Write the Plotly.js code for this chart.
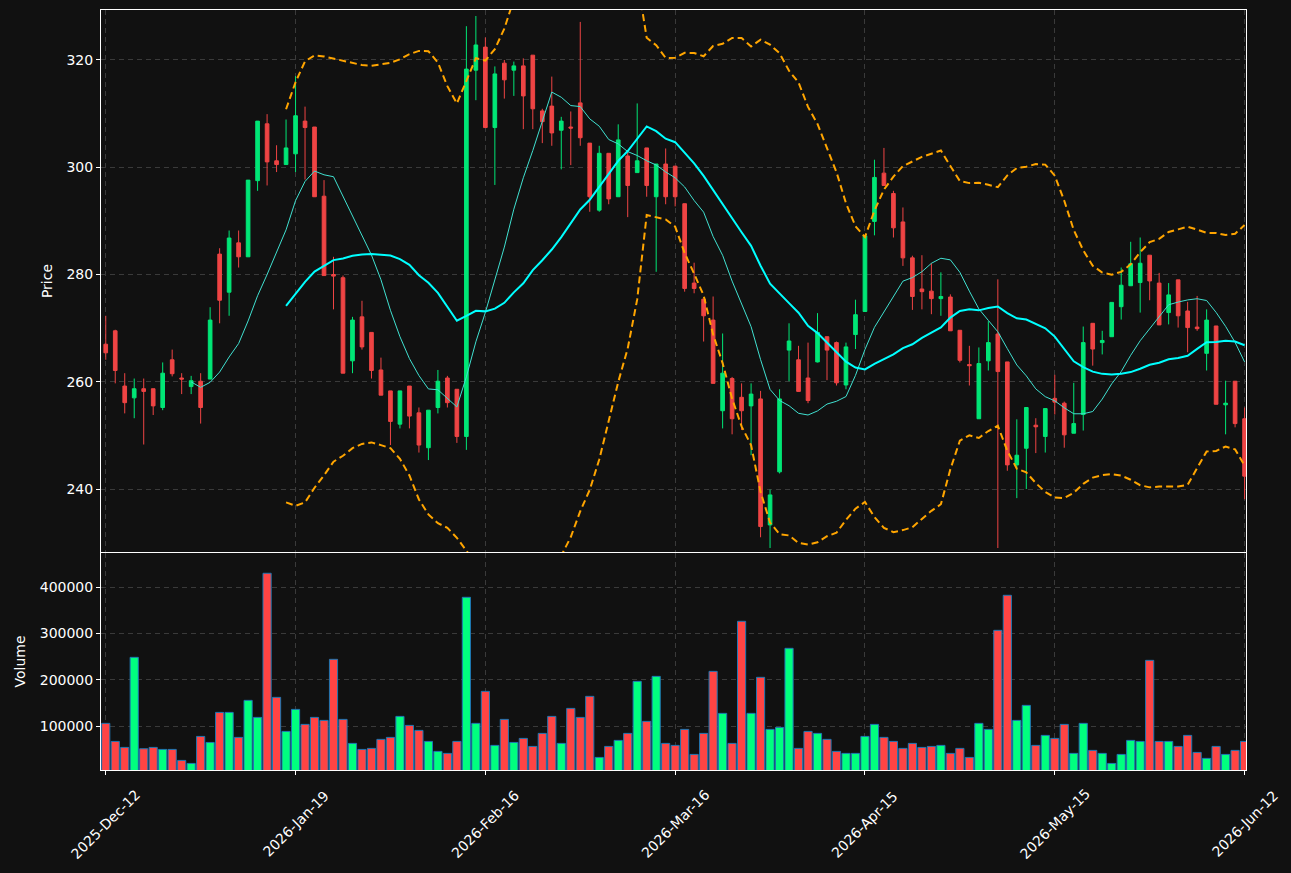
<!DOCTYPE html>
<html>
<head>
<meta charset="utf-8">
<script src="https://cdn.plot.ly/plotly-3.0.1.min.js"></script>
<style>
html,body{margin:0;padding:0;background:#111111;}
#chart{width:1291px;height:873px;}
</style>
</head>
<body>
<div id="chart"></div>
<script>
// ---- data ----
const openP = [267.0,269.5,259.2,257.0,258.7,258.7,255.2,264.1,260.7,259.1,
260.1,260.5,283.8,276.7,285.9,283.3,297.5,308.1,301.2,300.5,
302.5,308.6,307.5,294.6,280.0,279.4,263.9,272.1,269.2,262.2,
258.3,252.1,259.2,254.2,247.7,255.2,260.7,258.6,249.8,318.1,
322.4,307.4,319.4,318.1,318.9,320.9,310.5,311.4,306.9,307.5,
312.0,304.5,292.0,302.6,294.5,302.1,299.0,303.6,294.5,300.6,
300.2,293.2,278.4,275.4,271.5,254.6,260.6,257.1,255.5,256.8,
233.3,243.2,265.9,264.1,260.7,263.7,268.4,267.3,259.4,268.8,
273.1,289.9,298.9,295.1,289.8,283.1,277.3,276.9,275.5,275.8,
269.6,263.2,253.1,263.9,268.9,263.7,244.5,247.6,251.9,249.8,
256.9,256.0,250.4,253.9,270.9,267.3,268.4,274.0,277.9,278.5,
283.6,278.4,272.9,279.0,273.2,270.2,265.3,270.4,255.7,260.1,
253.1];
const highP = [272.3,269.7,261.6,260.6,260.6,258.7,263.6,266.0,261.6,261.1,
261.6,273.9,284.9,288.2,288.2,297.6,308.6,309.9,304.1,308.9,
317.0,311.3,307.5,297.6,283.3,279.8,272.1,275.1,269.2,264.5,
258.3,258.3,259.2,255.2,254.7,262.2,261.1,258.6,326.3,328.2,
324.2,318.8,320.0,319.7,320.3,320.9,310.9,316.9,309.4,310.4,
327.1,304.5,304.0,302.6,308.0,302.9,311.9,303.6,300.6,303.5,
300.2,293.2,282.2,275.4,275.9,269.0,260.9,259.7,259.7,258.3,
239.9,258.6,270.9,266.7,267.3,272.8,268.4,267.5,267.3,275.3,
287.2,301.4,303.6,295.6,292.5,283.5,283.6,282.1,280.4,276.3,
269.6,266.7,266.4,271.3,279.1,263.7,253.0,255.2,253.2,255.0,
261.3,256.3,259.8,270.3,270.9,269.5,274.8,281.3,286.1,286.9,
283.6,280.3,278.4,279.0,274.9,276.0,273.5,270.4,260.2,260.1,
255.2];
const lowP = [264.1,259.7,254.1,253.2,248.3,253.8,254.7,261.0,257.7,257.7,
252.2,260.5,270.9,272.3,281.3,283.3,295.6,296.6,299.1,300.5,
299.1,297.7,294.5,279.8,273.5,261.6,261.6,266.0,260.6,257.5,
248.2,251.3,251.3,246.8,245.4,254.1,255.2,248.6,247.3,312.5,
307.4,296.7,312.8,313.3,307.1,307.1,304.5,304.0,299.6,300.4,
304.0,291.7,291.7,293.1,294.5,290.7,299.0,294.5,280.5,293.1,
292.7,276.8,276.5,267.5,259.7,251.3,250.2,251.0,246.3,231.0,
229.0,242.9,260.1,258.2,256.0,263.6,260.3,259.3,258.6,266.1,
273.1,287.3,296.6,286.9,281.6,273.4,273.5,272.6,272.3,269.5,
263.6,259.3,253.1,262.1,229.0,243.4,238.3,240.0,246.7,246.8,
253.9,247.7,250.4,250.9,263.0,265.1,268.4,271.6,277.9,272.9,
275.2,270.6,270.7,270.1,265.5,269.5,262.1,255.8,250.2,251.5,
238.1];
const closeP = [265.4,262.1,256.1,258.7,258.2,255.5,261.6,261.5,260.5,260.2,
255.2,271.5,275.2,286.8,283.3,297.6,308.6,301.0,300.5,303.6,
309.6,307.4,294.5,279.8,279.7,261.6,271.5,266.5,262.1,257.5,
252.6,258.3,253.6,248.2,254.7,260.1,256.1,249.8,318.3,322.8,
307.4,317.4,316.3,318.9,313.3,310.9,308.5,306.4,308.6,307.3,
305.5,294.5,302.6,294.1,305.1,296.6,301.2,296.6,300.6,294.5,
294.5,277.4,277.4,272.3,259.7,261.6,253.1,254.6,257.7,233.0,
238.9,256.8,267.6,258.2,256.5,269.2,265.9,259.8,266.5,272.5,
287.2,298.1,296.6,288.7,283.1,275.9,276.8,275.5,275.9,269.5,
264.0,263.0,263.4,267.3,261.9,244.5,246.3,255.2,251.6,255.0,
256.2,250.1,252.2,267.3,266.1,267.7,274.8,278.0,282.0,282.1,
278.8,270.6,276.2,272.3,270.1,269.9,271.5,255.8,256.0,252.2,
242.4];
const volume = [105800,66800,53800,248500,50900,53800,49500,49500,25700,19200,
77600,64600,129500,129500,75500,155500,118700,430200,162000,88400,
136000,103600,118700,112200,244200,114400,62500,49500,51700,71200,
75500,120900,101400,90600,66800,45200,40900,66800,378300,105800,
175000,58200,114400,64600,73300,56000,84100,120900,62500,138200,
118700,164200,32200,56000,69000,84100,196600,110100,207400,62500,
58200,92800,38700,84100,218200,127400,62500,326400,127400,205300,
92800,97100,268000,51700,88400,84100,71200,45200,40900,40900,
77600,103600,75500,66800,51700,62500,53800,56000,58200,40900,
51700,32200,105800,92800,306900,382600,112200,144700,58200,79800,
73300,103600,40900,105800,47400,40900,19200,38700,69000,66800,
242000,66800,66800,56000,79800,43000,30100,56000,38700,47400,
66800];
const tickIndex = [0,20,40,60,80,100,120];
const tickLabels = ['2025-Dec-12','2026-Jan-19','2026-Feb-16','2026-Mar-16','2026-Apr-15','2026-May-15','2026-Jun-12'];

// ---- derived indicators (as in the original: rolling means and bands) ----
const idx = closeP.map((_, i) => i);
function sma(arr, n){
  return arr.map((_, i) => {
    if (i < n - 1) return null;
    let s = 0; for (let k = i - n + 1; k <= i; k++) s += arr[k];
    return s / n;
  });
}
function rstd(arr, n){
  return arr.map((_, i) => {
    if (i < n - 1) return null;
    let s = 0; for (let k = i - n + 1; k <= i; k++) s += arr[k];
    const m = s / n; let v = 0;
    for (let k = i - n + 1; k <= i; k++) v += (arr[k] - m) * (arr[k] - m);
    return Math.sqrt(v / n);
  });
}
const ma10 = sma(closeP, 10);
const ma20 = sma(closeP, 20);
const sd20 = rstd(closeP, 20);
const upper = ma20.map((m, i) => m === null ? null : m + 2 * sd20[i]);
const lower = ma20.map((m, i) => m === null ? null : m - 2 * sd20[i]);
const volColors = closeP.map((c, i) => c >= openP[i] ? '#00ff7f' : '#ff4444');

const GREEN = '#00e676', RED = '#ef4444';
const font = {family: 'DejaVu Sans, sans-serif', size: 14, color: '#ffffff'};
const grid = {showgrid: true, gridcolor: '#3a3a3a', griddash: '5px,4px', gridwidth: 1};

const traces = [
  {type: 'candlestick', x: idx, open: openP, high: highP, low: lowP, close: closeP,
   xaxis: 'x', yaxis: 'y', whiskerwidth: 0,
   increasing: {line: {color: GREEN, width: 1}, fillcolor: GREEN},
   decreasing: {line: {color: RED, width: 1}, fillcolor: RED},
   showlegend: false, hoverinfo: 'skip'},
  {type: 'scatter', mode: 'lines', x: idx, y: upper, xaxis: 'x', yaxis: 'y',
   line: {color: '#ffa500', width: 2, dash: '7px,4px'}, showlegend: false, hoverinfo: 'skip'},
  {type: 'scatter', mode: 'lines', x: idx, y: lower, xaxis: 'x', yaxis: 'y',
   line: {color: '#ffa500', width: 2, dash: '7px,4px'}, showlegend: false, hoverinfo: 'skip'},
  {type: 'scatter', mode: 'lines', x: idx, y: ma10, xaxis: 'x', yaxis: 'y',
   line: {color: '#40e0d0', width: 1}, showlegend: false, hoverinfo: 'skip'},
  {type: 'scatter', mode: 'lines', x: idx, y: ma20, xaxis: 'x', yaxis: 'y',
   line: {color: '#00ffff', width: 2}, showlegend: false, hoverinfo: 'skip'},
  {type: 'bar', x: idx, y: volume, xaxis: 'x2', yaxis: 'y2', width: 0.86,
   marker: {color: volColors, line: {color: '#1f77b4', width: 1}},
   showlegend: false, hoverinfo: 'skip'}
];

// x tick labels rotated 45 degrees and centred on their ticks
const annotations = tickIndex.map((t, k) => ({
  x: t, xref: 'x2', y: -54 / 760, yref: 'paper',
  text: tickLabels[k], showarrow: false, textangle: -45,
  xanchor: 'center', yanchor: 'middle', font: font
}));

const layout = {
  width: 1291, height: 873,
  paper_bgcolor: '#111111', plot_bgcolor: '#111111',
  font: font,
  margin: {l: 101, r: 45, t: 10, b: 103},
  boxgap: 0.45,
  bargap: 0.1,
  annotations: annotations,
  xaxis: Object.assign({
    domain: [0, 1], anchor: 'y', range: [-0.5, 120.15],
    rangeslider: {visible: false},
    tickmode: 'array', tickvals: tickIndex, ticktext: tickLabels,
    showticklabels: false, ticks: '',
    showline: true, mirror: true, linecolor: '#ffffff', linewidth: 1, zeroline: false
  }, grid),
  yaxis: Object.assign({
    domain: [0.2868, 1], anchor: 'x', range: [228.25, 329.32],
    tickmode: 'array', tickvals: [240, 260, 280, 300, 320],
    ticks: 'outside', ticklen: 4, tickcolor: '#ffffff',
    showline: true, mirror: true, linecolor: '#ffffff', linewidth: 1, zeroline: false,
    title: {text: 'Price', font: font, standoff: 10}
  }, grid),
  xaxis2: Object.assign({
    domain: [0, 1], anchor: 'y2', range: [-0.5, 120.15], matches: 'x',
    tickmode: 'array', tickvals: tickIndex, ticktext: tickLabels,
    showticklabels: false,
    ticks: 'outside', ticklen: 4, tickcolor: '#ffffff',
    showline: true, mirror: true, linecolor: '#ffffff', linewidth: 1, zeroline: false
  }, grid),
  yaxis2: Object.assign({
    domain: [0, 0.2855], anchor: 'x2', range: [5000, 474000],
    tickmode: 'array', tickvals: [100000, 200000, 300000, 400000], tickformat: 'd',
    ticks: 'outside', ticklen: 4, tickcolor: '#ffffff',
    showline: true, mirror: true, linecolor: '#ffffff', linewidth: 1, zeroline: false,
    title: {text: 'Volume', font: font, standoff: 10}
  }, grid)
};

Plotly.newPlot('chart', traces, layout, {staticPlot: true, displayModeBar: false});
</script>
</body>
</html>
